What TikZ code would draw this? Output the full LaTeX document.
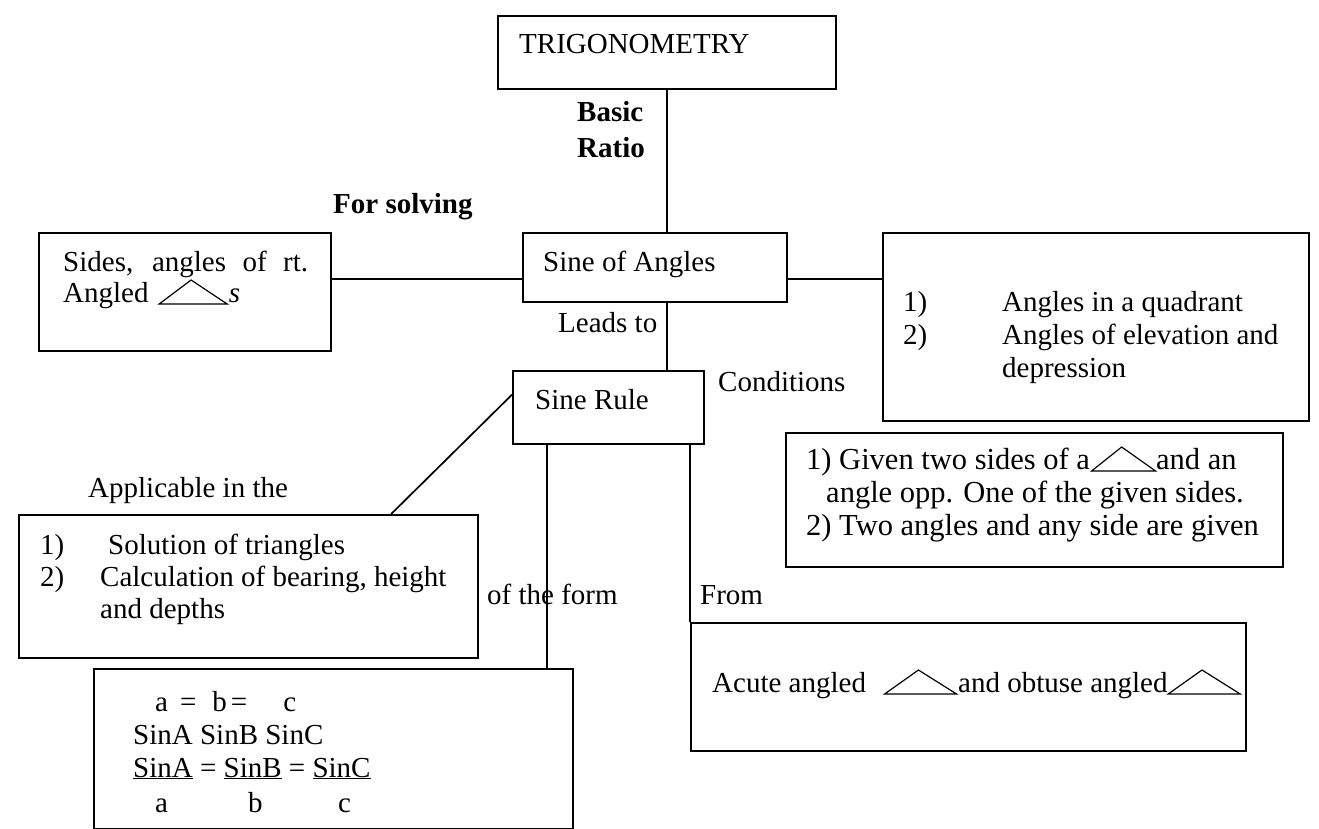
\documentclass[tikz,border=0pt]{standalone}
\usepackage{fontspec}
\setmainfont{Liberation Serif}
\usetikzlibrary{calc}
\newcommand\mytri[1][70]{\tikz[x=1pt,y=1pt,baseline=0pt]\draw[line width=1.2pt,line join=miter] (0,-2)--(#1*0.47,22)--(#1,-2)--cycle;}
\begin{document}
\begin{tikzpicture}[x=1pt,y=-1pt,
  box/.style={draw,line width=1.7pt,inner sep=0pt,anchor=north west},
  txt/.style={font=\fontsize{29}{33}\selectfont,inner sep=0pt,anchor=base west},
  ctxt/.style={txt,font=\fontsize{30.5}{33}\selectfont},
  bld/.style={txt,font=\fontsize{29}{33}\selectfont\bfseries},
  conn/.style={line width=1.7pt}]
\useasboundingbox (0,0) rectangle (1319,829);
\fill[white] (0,0) rectangle (1319,829);

% boxes
\node[box,minimum width=338pt,minimum height=73pt] (trig) at (497,15) {};
\node[box,minimum width=264pt,minimum height=69pt] (sine) at (522,232) {};
\node[box,minimum width=292pt,minimum height=118pt] (left) at (38,232) {};
\node[box,minimum width=426pt,minimum height=188pt] (right) at (882,232) {};
\node[box,minimum width=191pt,minimum height=73pt] (rule) at (512,370) {};
\node[box,minimum width=497pt,minimum height=134pt] (cond) at (785,432) {};
\node[box,minimum width=459pt,minimum height=143pt] (appl) at (18,514) {};
\node[box,minimum width=479pt,minimum height=160pt] (form) at (93,668) {};
\node[box,minimum width=555pt,minimum height=128pt] (acute) at (690,622) {};

% connectors
\coordinate (h1) at (0,279);
\coordinate (v1) at (547,0);
\draw[conn] (trig.south) -- (trig.south |- sine.north);
\draw[conn] (sine.west |- h1) -- (left.east |- h1);
\draw[conn] (sine.east |- h1) -- (right.west |- h1);
\draw[conn] (trig.south |- sine.south) -- (trig.south |- rule.north);
\draw[conn] ($(rule.north west)!0.33!(rule.south west)$) -- ($(appl.north west)!0.81!(appl.north east)$);
\draw[conn] (rule.south -| v1) -- (form.north -| v1);
\draw[conn] (rule.south -| acute.west) -- (acute.north west);

% labels on connectors
\node[txt] (t1) at (519,54) {TRIGONOMETRY};
\node[bld] (basic) at (577,122) {Basic};
\node[bld] (ratio) at (577,158) {Ratio};
\node[bld] (forsolving) at (333,214) {For solving};
\node[txt] (leads) at (558,332) {Leads to};
\node[txt] (condl) at (718,391) {Conditions};
\node[txt] (applic) at (88,497) {Applicable in the};
\node[txt] (ofform) at (487,604) {of the form};
\node[txt] (from) at (700,604) {From};

% box texts
\node[txt] (sinet) at (543,271) {Sine of Angles};
\node[txt] (l1) at (63,271) {\makebox[245pt][s]{Sides, angles of rt.}};
\node[txt] (l2) at (63,302) {Angled\hspace{10pt}\mytri[68]\hspace{1pt}\textit{s}};
\node[txt] (r1n) at (903,311) {1)};
\node[txt] (r2n) at (903,344) {2)};
\node[txt] (r1) at (1002,311) {Angles in a quadrant};
\node[txt] (r2) at (1002,344) {Angles of elevation and};
\node[txt] (r3) at (1002,377) {depression};
\node[txt] (ruletext) at (535,409) {Sine Rule};
\node[ctxt] (c1) at (806,469) {1) Given two sides of a\hspace{1pt}\mytri[64]\hspace{0pt}and an};
\node[ctxt] (c2) at (826,502) {angle opp. One of the given sides.};
\node[ctxt] (c3) at (806,535) {2) Two angles and any side are given};
\node[txt] (a1n) at (40,554) {1)};
\node[txt] (a1) at (108,554) {Solution of triangles};
\node[txt] (a2n) at (40,586) {2)};
\node[txt] (a2) at (100,586) {Calculation of bearing, height};
\node[txt] (a3) at (100,618) {and depths};
\node[txt] (f1) at (155,711) {a\hspace{12pt}=\hspace{16pt}b\hspace{4pt}=\hspace{36pt}c};
\node[txt] (f2) at (133,744) {SinA SinB SinC};
\node[txt] (f3) at (133,777) {\underline{SinA} = \underline{SinB} = \underline{SinC}};
\node[txt] (f4a) at (155,812) {a};
\node[txt] (f4b) at (248,812) {b};
\node[txt] (f4c) at (338,812) {c};
\node[txt] (ac) at (712,692) {Acute angled\hspace{18pt}\mytri[72]\hspace{1pt}and obtuse angled\mytri[72]};
\end{tikzpicture}
\end{document}
